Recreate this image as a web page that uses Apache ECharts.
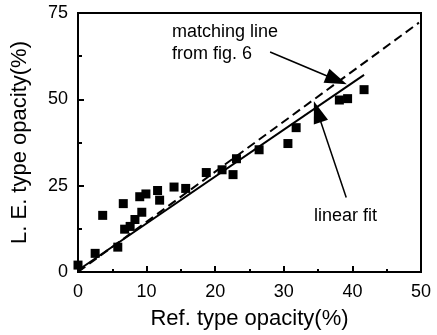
<!DOCTYPE html>
<html>
<head>
<meta charset="utf-8">
<script src="https://cdn.jsdelivr.net/npm/echarts@6/dist/echarts.min.js"></script>
<style>
html,body{margin:0;padding:0;background:#fff;}
#chart{width:437px;height:335px;}
</style>
</head>
<body>
<div id="chart"></div>
<script>
// Measured data (Ref. type opacity %, L. E. type opacity %)
var refOpacity = [0, 2.5, 3.6, 5.8, 6.6, 6.8, 7.6, 8.3, 9.3, 9.0, 9.9, 11.6, 11.9, 14.0, 15.7, 18.7, 21.0, 22.6, 23.1, 26.4, 30.6, 31.8, 38.1, 39.3, 41.7];
var leOpacity  = [2.0, 5.4, 16.4, 7.2, 19.8, 12.4, 13.2, 15.2, 17.3, 21.8, 22.6, 23.6, 20.8, 24.6, 24.2, 28.8, 29.6, 28.2, 32.8, 35.4, 37.2, 41.8, 49.8, 50.2, 52.8];
// Lines (endpoints)
var matchingLineX = [0, 49.7];
var matchingLineY = [0, 72.2];
var linearFitX = [0, 41.7];
var linearFitY = [0.5, 57.1];
// Annotation arrows (data coordinates: start, tip)
var arrowMatch = [[28.0, 63.7], [37.7, 55.6]];
var arrowFit = [[39.1, 21.6], [34.9, 46.4]];
// Axis ticks
var xTicks = [0, 10, 20, 30, 40, 50];
var yTicks = [0, 25, 50, 75];

var FONT = '"Liberation Sans", Arial, Helvetica, sans-serif';
function zip(a, b) { return a.map(function (v, i) { return [v, b[i]]; }); }

var chart = echarts.init(document.getElementById('chart'), null, {renderer: 'canvas'});
chart.setOption({
  animation: false,
  backgroundColor: '#fff',
  grid: {left: 78, right: 16, top: 13, bottom: 62, show: true, borderColor: '#000', borderWidth: 2, backgroundColor: 'transparent'},
  xAxis: {
    type: 'value', min: xTicks[0], max: xTicks[xTicks.length - 1], interval: 10,
    name: 'Ref. type opacity(%)', nameLocation: 'middle', nameGap: 36,
    nameTextStyle: {color: '#000', fontSize: 22, fontFamily: FONT},
    axisLine: {lineStyle: {color: '#000', width: 2}},
    axisTick: {inside: true, length: 6, lineStyle: {color: '#000', width: 2}},
    minorTick: {show: true, splitNumber: 2, length: 3, lineStyle: {color: '#000', width: 2}},
    axisLabel: {color: '#000', fontSize: 18, fontFamily: FONT, margin: 11},
    splitLine: {show: false}
  },
  yAxis: {
    type: 'value', min: yTicks[0], max: yTicks[yTicks.length - 1], interval: 25,
    name: 'L. E. type opacity(%)', nameLocation: 'middle', nameGap: 47,
    nameTextStyle: {color: '#000', fontSize: 22, fontFamily: FONT},
    axisLine: {lineStyle: {color: '#000', width: 2}},
    axisTick: {inside: true, length: 6, lineStyle: {color: '#000', width: 2}},
    minorTick: {show: true, splitNumber: 2, length: 4, lineStyle: {color: '#000', width: 2}},
    axisLabel: {color: '#000', fontSize: 18, fontFamily: FONT, margin: 10},
    splitLine: {show: false}
  },
  series: [
    {
      type: 'line', name: 'matching line', data: zip(matchingLineX, matchingLineY),
      showSymbol: false, symbol: 'none', lineStyle: {color: '#000', width: 2, type: [9, 5]}, z: 3
    },
    {
      type: 'line', name: 'linear fit', data: zip(linearFitX, linearFitY),
      showSymbol: false, symbol: 'none', lineStyle: {color: '#000', width: 2}, z: 3,
      markLine: {
        silent: true, symbol: ['none', 'triangle'], symbolSize: [15, 22],
        lineStyle: {color: '#000', width: 1.5, type: 'solid', opacity: 1},
        itemStyle: {color: '#000'}, label: {show: false},
        data: [
          [{coord: arrowMatch[0]}, {coord: arrowMatch[1]}],
          [{coord: arrowFit[0]}, {coord: arrowFit[1]}]
        ]
      }
    },
    {
      type: 'scatter', name: 'data', data: zip(refOpacity, leOpacity),
      symbol: 'rect', symbolSize: 9, itemStyle: {color: '#000', opacity: 1}, clip: false, z: 4
    }
  ],
  graphic: [
    {type: 'text', left: 172, top: 23, style: {text: 'matching line', fill: '#000', font: '18px ' + FONT}},
    {type: 'text', left: 172, top: 45, style: {text: 'from fig. 6', fill: '#000', font: '18px ' + FONT}},
    {type: 'text', left: 314, top: 207, style: {text: 'linear fit', fill: '#000', font: '18px ' + FONT}}
  ]
});
</script>
</body>
</html>
